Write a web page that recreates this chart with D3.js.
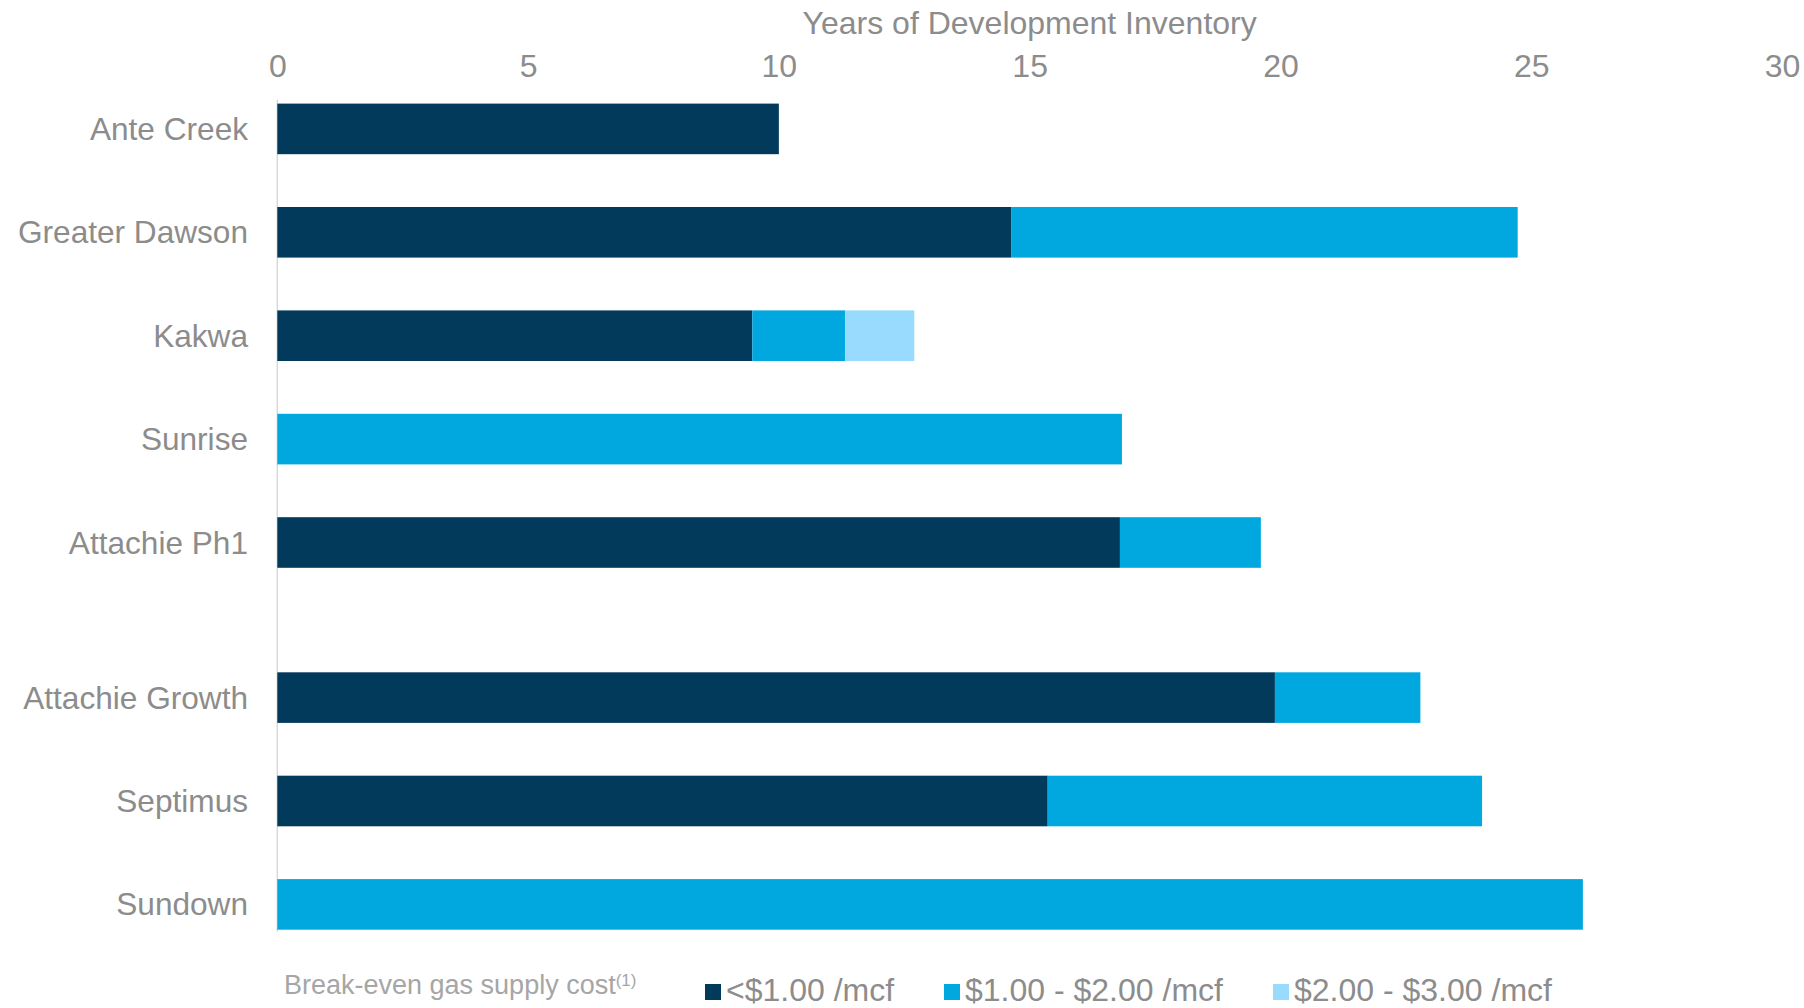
<!DOCTYPE html>
<html>
<head>
<meta charset="utf-8">
<script src="https://cdn.jsdelivr.net/npm/d3@7"></script>
<style>
  html, body { margin: 0; padding: 0; background: #fff; }
  svg { display: block; font-family: "Liberation Sans", Arial, sans-serif; }
</style>
</head>
<body>
<svg id="chart" width="1804" height="1008"></svg>
<script>
// ---- data ----
const sites = ["Ante Creek", "Greater Dawson", "Kakwa", "Sunrise", "Attachie Ph1",
               "Attachie Growth", "Septimus", "Sundown"];
const section = [0, 0, 0, 0, 0, 1, 1, 1];   // second group sits after a half-row gap
const below1 = [10.0, 14.63, 9.47, 0, 16.80, 19.89, 15.36, 0];
const from1to2 = [0, 10.10, 1.85, 16.84, 2.81, 2.90, 8.66, 26.03];
const from2to3 = [0, 0, 1.38, 0, 0, 0, 0, 0];
const seriesNames = ["<$1.00 /mcf", "$1.00 - $2.00 /mcf", "$2.00 - $3.00 /mcf"];
const seriesColors = ["#023A5C", "#00A8DF", "#99DBFF"];
const xTicks = [0, 5, 10, 15, 20, 25, 30];
const axisTitle = "Years of Development Inventory";
const legendTitle = "Break-even gas supply cost";

// ---- build ----
const svg = d3.select("#chart");
const rows = sites.map((s, i) => ({ site: s, pos: i + section[i] * 0.5,
  v: [below1[i], from1to2[i], from2to3[i]] }));
const stack = d3.stack().keys([0, 1, 2]).value((d, k) => d.v[k]);
const layers = stack(rows);

const x = d3.scaleLinear().domain([0, 30]).range([277.3, 1782]);
const y = d3.scaleLinear().domain([0, 7.5]).range([128.9, 904.4]);
const barH = 50.6;

// category axis line
svg.append("line")
  .attr("x1", x(0)).attr("x2", x(0))
  .attr("y1", y(0) - barH / 2 - 4).attr("y2", y(7.5) + barH / 2 + 2)
  .attr("stroke", "#d9d9d9").attr("stroke-width", 1.5);

// bars
svg.append("g").selectAll("g").data(layers).join("g")
  .attr("fill", (d, i) => seriesColors[i])
  .selectAll("rect").data(d => d).join("rect")
  .attr("x", d => x(d[0]))
  .attr("width", d => Math.max(0, x(d[1]) - x(d[0])))
  .attr("y", d => y(d.data.pos) - barH / 2)
  .attr("height", barH);

// top axis
const xAxis = d3.axisTop(x).tickValues(xTicks).tickSize(0).tickPadding(0);
const gx = svg.append("g").attr("transform", "translate(0,77)").call(xAxis);
gx.select(".domain").remove();
gx.selectAll("text").attr("fill", "#8c8c8c").style("font-size", "32px")
  .attr("font-family", "Liberation Sans, Arial, sans-serif");

svg.append("text").attr("x", (x(0) + x(30)) / 2).attr("y", 34)
  .attr("text-anchor", "middle").attr("fill", "#8c8c8c").style("font-size", "32px")
  .text(axisTitle);

// category labels
svg.append("g").selectAll("text").data(rows).join("text")
  .attr("x", 248).attr("y", d => y(d.pos))
  .attr("dy", "0.35em").attr("text-anchor", "end")
  .attr("fill", "#8c8c8c").style("font-size", "31.6px")
  .text(d => d.site);

// legend
const lt = svg.append("text").attr("x", 284).attr("y", 994)
  .attr("fill", "#a6a6a6").style("font-size", "27px");
lt.append("tspan").text(legendTitle);
lt.append("tspan").attr("dy", -8).style("font-size", "17px").text("(1)");

const legendX = [705, 944, 1273];
const lg = svg.append("g").selectAll("g").data(seriesNames).join("g")
  .attr("transform", (d, i) => `translate(${legendX[i]},0)`);
lg.append("rect").attr("x", 0).attr("y", 984).attr("width", 16).attr("height", 16)
  .attr("fill", (d, i) => seriesColors[i]);
lg.append("text").attr("x", 21).attr("y", 1001)
  .attr("fill", "#8c8c8c").style("font-size", "32px").text(d => d);
</script>
</body>
</html>
